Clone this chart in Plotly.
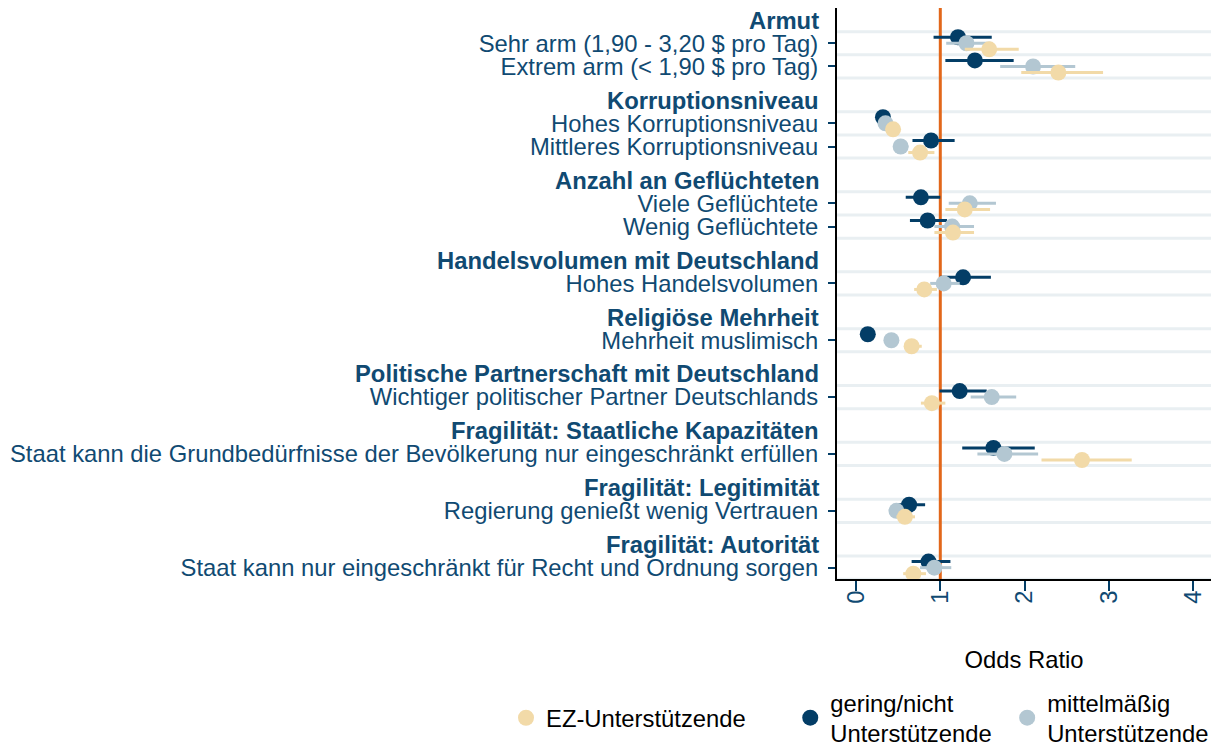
import plotly.graph_objects as go

# Groups of country characteristics and the items shown under each heading
groups = [
    "Armut",
    "Korruptionsniveau",
    "Anzahl an Geflüchteten",
    "Handelsvolumen mit Deutschland",
    "Religiöse Mehrheit",
    "Politische Partnerschaft mit Deutschland",
    "Fragilität: Staatliche Kapazitäten",
    "Fragilität: Legitimität",
    "Fragilität: Autorität",
]
group_items = [
    ["Sehr arm (1,90 - 3,20 $ pro Tag)", "Extrem arm (< 1,90 $ pro Tag)"],
    ["Hohes Korruptionsniveau", "Mittleres Korruptionsniveau"],
    ["Viele Geflüchtete", "Wenig Geflüchtete"],
    ["Hohes Handelsvolumen"],
    ["Mehrheit muslimisch"],
    ["Wichtiger politischer Partner Deutschlands"],
    ["Staat kann die Grundbedürfnisse der Bevölkerung nur eingeschränkt erfüllen"],
    ["Regierung genießt wenig Vertrauen"],
    ["Staat kann nur eingeschränkt für Recht und Ordnung sorgen"],
]

# Odds ratios with 95% confidence bounds, one value per item (top to bottom)
or_gering = [1.21, 1.41, 0.32, 0.89, 0.77, 0.85, 1.27, 0.14, 1.23, 1.63, 0.63, 0.86]
lo_gering = [0.92, 1.06, 0.27, 0.67, 0.59, 0.64, 1.00, 0.10, 0.99, 1.26, 0.47, 0.66]
hi_gering = [1.61, 1.87, 0.37, 1.17, 1.00, 1.08, 1.60, 0.18, 1.55, 2.12, 0.82, 1.12]

or_mittel = [1.31, 2.10, 0.35, 0.53, 1.35, 1.14, 1.04, 0.42, 1.61, 1.76, 0.48, 0.93]
lo_mittel = [1.07, 1.71, 0.29, 0.45, 1.10, 0.93, 0.88, 0.36, 1.36, 1.44, 0.40, 0.76]
hi_mittel = [1.60, 2.60, 0.42, 0.62, 1.66, 1.40, 1.23, 0.50, 1.90, 2.16, 0.58, 1.13]

or_ez = [1.58, 2.40, 0.44, 0.76, 1.29, 1.15, 0.81, 0.66, 0.90, 2.68, 0.58, 0.68]
lo_ez = [1.29, 1.96, 0.37, 0.62, 1.06, 0.93, 0.69, 0.57, 0.77, 2.20, 0.48, 0.56]
hi_ez = [1.93, 2.93, 0.52, 0.93, 1.59, 1.40, 0.96, 0.78, 1.06, 3.27, 0.70, 0.83]

x_ticks = [0, 1, 2, 3, 4]

TEXT = "#104a72"
DARK = "#033d66"
GREY = "#b3c7d2"
BEIGE = "#f2daa8"
ORANGE = "#e2671a"
GRID = "#e9eff2"
FONT = "Arial, Liberation Sans, sans-serif"
FS = 23.8

# Row layout: heading row, then one row per item, extra gap before next heading
GROUP_GAP = 1.45
header_pos, item_pos, item_labels = [], [], []
pos = 0.0
for g, items in zip(groups, group_items):
    header_pos.append(pos)
    for it in items:
        pos += 1
        item_pos.append(pos)
        item_labels.append(it)
    pos += GROUP_GAP

OFFSET = 0.26  # vertical shift of the three series within a row

fig = go.Figure()


def add_series(name, vals, lo, hi, color, shift, legend, rank):
    fig.add_trace(go.Scatter(
        x=vals,
        y=[p + shift for p in item_pos],
        mode="markers",
        name=name,
        marker=dict(color=color, size=16, line=dict(width=0)),
        error_x=dict(
            type="data", symmetric=False,
            array=[h - v for v, h in zip(vals, hi)],
            arrayminus=[v - l for v, l in zip(vals, lo)],
            color=color, thickness=3, width=0,
        ),
        legend=legend,
        legendrank=rank,
        showlegend=True,
    ))


add_series("gering/nicht<br>Unterstützende", or_gering, lo_gering, hi_gering,
           DARK, -OFFSET, "legend2", 2)
add_series("mittelmäßig<br>Unterstützende", or_mittel, lo_mittel, hi_mittel,
           GREY, 0.0, "legend3", 3)
add_series("EZ-Unterstützende", or_ez, lo_ez, hi_ez,
           BEIGE, OFFSET, "legend", 1)

# Horizontal separators around each item row
shapes = []
edges = sorted({round(p - 0.5, 3) for p in item_pos} | {round(p + 0.5, 3) for p in item_pos})
for e in edges:
    shapes.append(dict(type="line", xref="paper", x0=0, x1=1, yref="y", y0=e, y1=e,
                       line=dict(color=GRID, width=3), layer="below"))
# Reference line at odds ratio 1
shapes.append(dict(type="line", xref="x", x0=1, x1=1, yref="paper", y0=0, y1=1,
                   line=dict(color=ORANGE, width=3), layer="below"))

annotations = []
for g, p in zip(groups, header_pos):
    annotations.append(dict(
        text=f"<b>{g}</b>", x=0, xref="paper", y=p, yref="y",
        xanchor="right", yanchor="middle", xshift=-16, showarrow=False,
        font=dict(family=FONT, size=FS, color=TEXT),
    ))

legend_style = dict(orientation="h", yanchor="middle", xanchor="left",
                    font=dict(family=FONT, size=FS, color="black"),
                    bgcolor="rgba(0,0,0,0)", borderwidth=0)

LEG_Y = -0.243

fig.update_layout(
    width=1211, height=749,
    margin=dict(l=837, r=0, t=8, b=170, autoexpand=False),
    paper_bgcolor="white", plot_bgcolor="white",
    font=dict(family=FONT, size=FS, color=TEXT),
    showlegend=True,
    shapes=shapes,
    annotations=annotations,
    legend=dict(x=-0.885, y=LEG_Y, **legend_style),
    legend2=dict(x=-0.125, y=LEG_Y, **legend_style),
    legend3=dict(x=0.455, y=LEG_Y, **legend_style),
    xaxis=dict(
        range=[-0.225, 4.21], tickvals=x_ticks, tickangle=-90,
        ticks="outside", ticklen=10, tickwidth=2, tickcolor=DARK,
        tickfont=dict(family=FONT, size=FS, color=TEXT),
        ticklabelstandoff=-10,
        showline=True, linecolor="black", linewidth=2,
        showgrid=False, zeroline=False, automargin=False,
        title=dict(text="Odds Ratio", standoff=49,
                   font=dict(family=FONT, size=FS, color="black")),
    ),
    yaxis=dict(
        range=[item_pos[-1] + 0.49, -0.52], tickvals=item_pos, ticktext=item_labels,
        ticks="outside", ticklen=7, tickwidth=2, tickcolor=DARK,
        tickfont=dict(family=FONT, size=FS, color=TEXT),
        ticklabelstandoff=5,
        showline=True, linecolor="black", linewidth=2,
        showgrid=False, zeroline=False, automargin=False,
    ),
)

fig.write_html("out.html")
